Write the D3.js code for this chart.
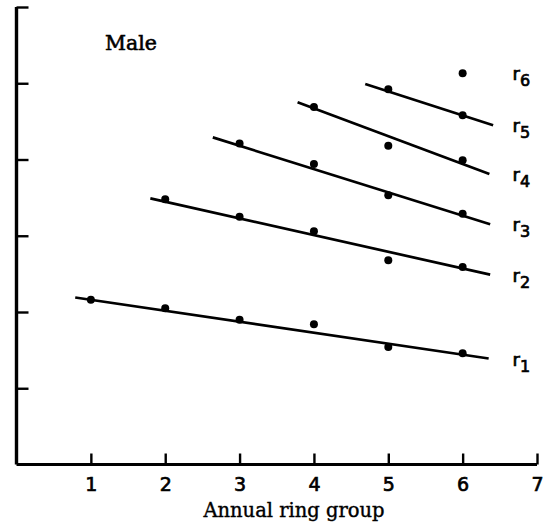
<!DOCTYPE html>
<html>
<head>
<meta charset="utf-8">
<script src="https://cdn.jsdelivr.net/npm/d3@7"></script>
<style>
  html, body { margin: 0; padding: 0; background: #fff; }
  svg { display: block; }
</style>
</head>
<body>
<svg id="chart" width="553" height="527"></svg>
<script>
// Annual ring groups on the x axis
const xTicks = [1, 2, 3, 4, 5, 6, 7];
const yTicks = [1, 2, 3, 4, 5, 6];

// Regression series r1..r6: first ring group and observed values
const seriesNames = ["1", "2", "3", "4", "5", "6"];
const seriesStart = [1, 2, 3, 4, 5, 6];
const r1 = [2.16, 2.05, 1.90, 1.84, 1.54, 1.46];
const r2 = [3.48, 3.25, 3.06, 2.68, 2.59];
const r3 = [4.21, 3.94, 3.53, 3.29];
const r4 = [4.69, 4.18, 3.99];
const r5 = [4.92, 4.58];
const r6 = [5.13];
const seriesValues = [r1, r2, r3, r4, r5, r6];

// Fitted lines (start group, start value, end group, end value); r6 has none
const fitX0 = [0.79, 1.80, 2.64, 3.78, 4.69, null];
const fitY0 = [2.19, 3.49, 4.29, 4.75, 4.99, null];
const fitX1 = [6.35, 6.37, 6.37, 6.36, 6.41, null];
const fitY1 = [1.39, 2.49, 3.15, 3.81, 4.45, null];

const svg = d3.select("#chart");
const x = d3.scaleLinear().domain([0, 7]).range([16.5, 537]);
const y = d3.scaleLinear().domain([0, 6]).range([464.5, 7]);

const ink = "#000";

// Axes: ticks point inward, no y labels
const xAxis = d3.axisBottom(x).tickValues(xTicks).tickSize(-11).tickSizeOuter(0).tickPadding(13)
  .tickFormat(d3.format("d"));
const yAxis = d3.axisLeft(y).tickValues(yTicks).tickSize(-12).tickSizeOuter(0).tickFormat("");

const gx = svg.append("g").attr("transform", `translate(0,${y(0)})`).call(xAxis);
gx.select(".domain").attr("stroke", ink).attr("stroke-width", 3.2)
  .attr("d", `M${x(0)},0H${x(7)}`);
gx.selectAll(".tick line").attr("stroke", ink).attr("stroke-width", 2.4);
gx.selectAll(".tick text")
  .attr("fill", ink)
  .attr("stroke", ink)
  .attr("stroke-width", 0.7)
  .attr("font-family", "DejaVu Sans")
  .attr("font-size", 19)
  .attr("dy", "0.71em");

const gy = svg.append("g").attr("transform", `translate(${x(0)},0)`).call(yAxis);
gy.select(".domain").attr("stroke", ink).attr("stroke-width", 3.4)
  .attr("d", `M0,${y(6)}V${y(0)}`);
gy.selectAll(".tick line").attr("stroke", ink).attr("stroke-width", 2.4);

// Axis title
svg.append("text")
  .attr("x", 294).attr("y", 517)
  .attr("text-anchor", "middle")
  .attr("font-family", "DejaVu Serif")
  .attr("font-size", 19.5)
  .attr("fill", ink)
  .attr("stroke", ink)
  .attr("stroke-width", 0.4)
  .text("Annual ring group");

// Panel title
svg.append("text")
  .attr("x", 105).attr("y", 50)
  .attr("font-family", "DejaVu Serif")
  .attr("font-size", 20.5)
  .attr("fill", ink)
  .attr("stroke", ink)
  .attr("stroke-width", 0.6)
  .text("Male");

// Fitted lines
const plot = svg.append("g");
seriesNames.forEach((name, i) => {
  if (fitX0[i] !== null) {
    plot.append("line")
      .attr("x1", x(fitX0[i])).attr("y1", y(fitY0[i]))
      .attr("x2", x(fitX1[i])).attr("y2", y(fitY1[i]))
      .attr("stroke", ink).attr("stroke-width", 2.7);
  }
  plot.selectAll(null)
    .data(seriesValues[i].map((v, j) => ({ g: seriesStart[i] + j, v })))
    .join("circle")
    .attr("cx", d => x(d.g)).attr("cy", d => y(d.v))
    .attr("r", 4).attr("fill", ink);

  // Series label r with subscript, next to the line end
  const endV = fitY1[i] !== null ? fitY1[i] : seriesValues[i][seriesValues[i].length - 1];
  const lbl = svg.append("text")
    .attr("x", 512.5).attr("y", y(endV) + 7)
    .attr("font-family", "DejaVu Sans")
    .attr("fill", ink)
    .attr("stroke", ink)
    .attr("stroke-width", 0.7);
  lbl.append("tspan").attr("font-size", 18).text("r");
  lbl.append("tspan").attr("font-size", 16).attr("dy", 6).text(name);
});
</script>
</body>
</html>
